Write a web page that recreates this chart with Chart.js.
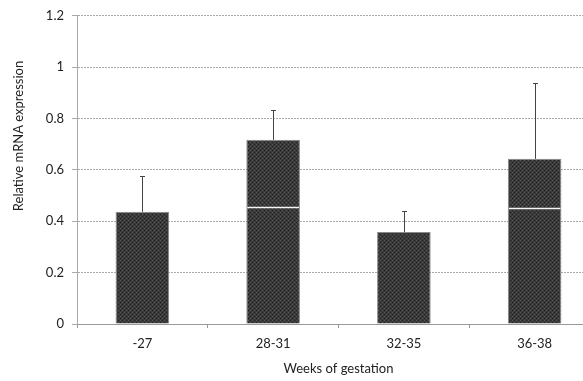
<!DOCTYPE html>
<html>
<head>
<meta charset="utf-8">
<script src="https://cdn.jsdelivr.net/npm/chart.js@4"></script>
<style>
  html, body { margin: 0; padding: 0; background: #fff; overflow: hidden; }
  #wrap { width: 600px; height: 381px; }
</style>
</head>
<body>
<div id="wrap"><canvas id="barChart" width="600" height="381"></canvas></div>
<script>
var categories = ['-27', '28-31', '32-35', '36-38'];
// lower part of each bar (a white line splits two of the bars)
var lowerPart = [0.437, 0.456, 0.358, 0.452];
var upperPart = [0, 0.261, 0, 0.191];
// top of the error bars
var errorTop = [0.577, 0.834, 0.44, 0.939];
var yTicks = [0, 0.2, 0.4, 0.6, 0.8, 1, 1.2];

var fontFamily = 'Lato, "Open Sans", sans-serif';

// small grey texture for the bars
function makePattern() {
    var c = document.createElement('canvas');
    c.width = 4; c.height = 4;
    var g = c.getContext('2d');
    g.fillStyle = '#3a3a3a';
    g.fillRect(0, 0, 4, 4);
    g.fillStyle = '#555';
    g.fillRect(0, 0, 1, 1); g.fillRect(2, 2, 1, 1);
    g.fillStyle = '#222';
    g.fillRect(2, 0, 1, 1); g.fillRect(0, 2, 1, 1);
    return document.getElementById('barChart').getContext('2d').createPattern(c, 'repeat');
}
var barFill = makePattern();

var errorBars = {
    id: 'errorBars',
    afterDatasetsDraw: function (chart) {
        var ctx = chart.ctx;
        var x = chart.scales.x, y = chart.scales.y;
        var lower = chart.getDatasetMeta(0).data;
        ctx.save();
        // white split line inside the two-part bars
        ctx.strokeStyle = '#f4f4f4';
        ctx.lineWidth = 1.5;
        for (var j = 0; j < categories.length; j++) {
            if (upperPart[j] > 0) {
                var el = lower[j];
                var yl = Math.round(y.getPixelForValue(lowerPart[j])) + 0.5;
                ctx.beginPath();
                ctx.moveTo(el.x - el.width / 2 + 1, yl);
                ctx.lineTo(el.x + el.width / 2 - 1, yl);
                ctx.stroke();
            }
        }
        ctx.strokeStyle = '#444';
        ctx.lineWidth = 1;
        for (var i = 0; i < categories.length; i++) {
            var px = Math.round(x.getPixelForValue(i)) + 0.5;
            var yTop = y.getPixelForValue(lowerPart[i] + upperPart[i]);
            var yErr = Math.round(y.getPixelForValue(errorTop[i])) + 0.5;
            ctx.beginPath();
            ctx.moveTo(px, yTop);
            ctx.lineTo(px, yErr);
            ctx.moveTo(px - 2.5, yErr);
            ctx.lineTo(px + 2.5, yErr);
            ctx.stroke();
        }
        // y axis title, placed as in the original figure
        ctx.translate(19, 136);
        ctx.rotate(-Math.PI / 2);
        ctx.fillStyle = '#222';
        ctx.font = '13px ' + fontFamily;
        ctx.textAlign = 'center';
        ctx.textBaseline = 'middle';
        ctx.fillText('Relative mRNA expression', 0, 0);
        ctx.restore();
    }
};

var ctxBar = document.getElementById('barChart').getContext('2d');
var barChart = new Chart(ctxBar, {
    type: 'bar',
    data: {
        labels: categories,
        datasets: [{
            data: lowerPart,
            backgroundColor: barFill,
            borderColor: '#888',
            borderWidth: 1,
            categoryPercentage: 1,
            barPercentage: 0.41
        }, {
            data: upperPart,
            backgroundColor: barFill,
            borderColor: '#888',
            borderWidth: { top: 1, left: 1, right: 1, bottom: 0 },
            categoryPercentage: 1,
            barPercentage: 0.41
        }]
    },
    options: {
        responsive: false,
        animation: false,
        layout: { padding: { top: 10, left: 0, right: 0, bottom: 0 } },
        plugins: {
            legend: { display: false },
            tooltip: { enabled: false }
        },
        scales: {
            x: {
                stacked: true,
                grid: { drawOnChartArea: false, drawTicks: true, tickLength: 4, color: '#999', offset: true },
                border: { display: true, color: '#999', dash: [2, 1] },
                ticks: { color: '#222', font: { family: fontFamily, size: 13 }, padding: 8 },
                title: { display: true, text: 'Weeks of gestation', color: '#222', font: { family: fontFamily, size: 13 }, padding: { top: 10 } },
                afterFit: function (s) { s.height = 57; }
            },
            y: {
                stacked: true,
                min: 0,
                max: 1.2,
                afterBuildTicks: function (s) { s.ticks = yTicks.map(function (v) { return { value: v }; }); },
                grid: { color: '#aaa', tickLength: 5 },
                border: { display: true, color: '#aaa', dash: [2, 1] },
                ticks: {
                    color: '#222', font: { family: fontFamily, size: 13 }, padding: 8,
                    callback: function (v) { return String(Math.round(v * 10) / 10); }
                },
                afterFit: function (s) { s.width = 77; }
            }
        }
    },
    plugins: [errorBars]
});
</script>
</body>
</html>
